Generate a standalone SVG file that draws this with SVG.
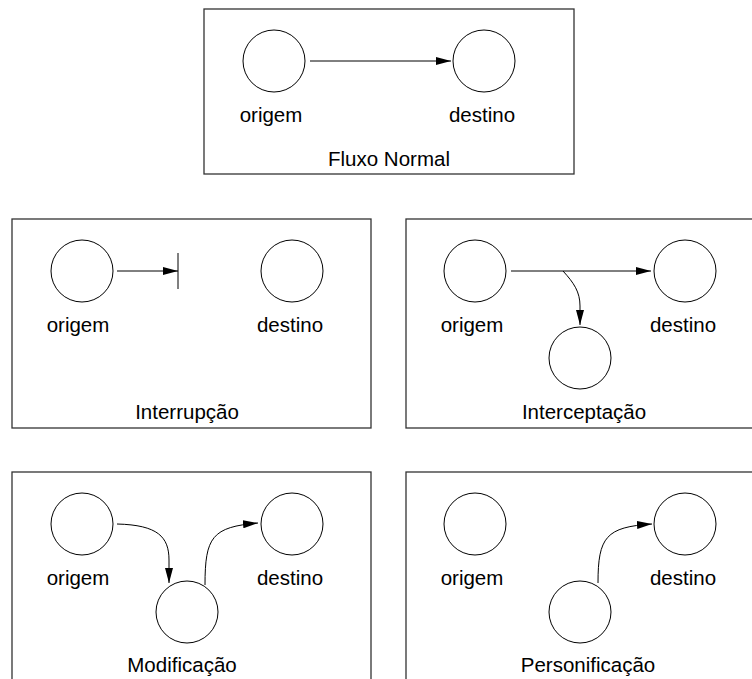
<svg xmlns="http://www.w3.org/2000/svg" width="752" height="679" viewBox="0 0 752 679">
  <style>
    .frame { fill: none; stroke: #333; stroke-width: 1.3; }
    .node { fill: #fff; stroke: #000; stroke-width: 1; }
    .flow { fill: none; stroke: #000; stroke-width: 1; }
    .label { font-family: "Liberation Sans", Arial, Helvetica, sans-serif; font-size: 20.5px; fill: #000; text-anchor: middle; }
  </style>
  <defs>
    <marker id="arrow" markerWidth="15" markerHeight="8" refX="15" refY="4" orient="auto" markerUnits="userSpaceOnUse">
      <path d="M0,0 L15,4 L0,8 z" fill="#000"/>
    </marker>
  </defs>
  <rect width="752" height="679" fill="#fff"/>

  <!-- Fluxo Normal -->
  <g id="panel-normal">
    <rect class="frame" x="204" y="9" width="370" height="165"/>
    <g id="normal-origem">
      <circle class="node" cx="274" cy="61" r="31"/>
      <text class="label" x="271" y="122">origem</text>
    </g>
    <g id="normal-destino">
      <circle class="node" cx="484" cy="61" r="31"/>
      <text class="label" x="482" y="122">destino</text>
    </g>
    <text class="label" x="389" y="166">Fluxo Normal</text>
  </g>

  <!-- Interrupção -->
  <g id="panel-interrupcao">
    <rect class="frame" x="12" y="219" width="359" height="209"/>
    <g id="interrupcao-origem">
      <circle class="node" cx="82" cy="271" r="31"/>
      <text class="label" x="78" y="332">origem</text>
    </g>
    <g id="interrupcao-destino">
      <circle class="node" cx="292" cy="271" r="31"/>
      <text class="label" x="290" y="332">destino</text>
    </g>
    <text class="label" x="187" y="419">Interrupção</text>
  </g>

  <!-- Interceptação -->
  <g id="panel-interceptacao">
    <rect class="frame" x="406" y="219" width="360" height="209"/>
    <g id="interceptacao-origem">
      <circle class="node" cx="475" cy="271" r="31"/>
      <text class="label" x="472" y="332">origem</text>
    </g>
    <g id="interceptacao-destino">
      <circle class="node" cx="685" cy="271" r="31"/>
      <text class="label" x="683" y="332">destino</text>
    </g>
    <g id="interceptacao-intruso">
      <circle class="node" cx="580" cy="358" r="31"/>
    </g>
    <text class="label" x="584" y="419">Interceptação</text>
  </g>

  <!-- Modificação -->
  <g id="panel-modificacao">
    <rect class="frame" x="12" y="472" width="359" height="220"/>
    <g id="modificacao-origem">
      <circle class="node" cx="82" cy="524" r="31"/>
      <text class="label" x="78" y="585">origem</text>
    </g>
    <g id="modificacao-destino">
      <circle class="node" cx="292" cy="524" r="31"/>
      <text class="label" x="290" y="585">destino</text>
    </g>
    <g id="modificacao-intruso">
      <circle class="node" cx="187" cy="612" r="31"/>
    </g>
    <text class="label" x="182" y="672">Modificação</text>
  </g>

  <!-- Personificação -->
  <g id="panel-personificacao">
    <rect class="frame" x="406" y="472" width="360" height="220"/>
    <g id="personificacao-origem">
      <circle class="node" cx="475" cy="524" r="31"/>
      <text class="label" x="472" y="585">origem</text>
    </g>
    <g id="personificacao-destino">
      <circle class="node" cx="685" cy="524" r="31"/>
      <text class="label" x="683" y="585">destino</text>
    </g>
    <g id="personificacao-intruso">
      <circle class="node" cx="580" cy="612" r="31"/>
    </g>
    <text class="label" x="588" y="672">Personificação</text>
  </g>

  <!-- connectors -->
  <g id="connectors">
    <path class="flow" d="M310,61 L451,61" marker-end="url(#arrow)"/>

    <path class="flow" d="M117,271 L178,271" marker-end="url(#arrow)"/>
    <path class="flow" d="M178,253 L178,289"/>

    <path class="flow" d="M511,271 L651,271" marker-end="url(#arrow)"/>
    <path class="flow" d="M563,271 C574,283 580,292 580,306 L580,325" marker-end="url(#arrow)"/>

    <path class="flow" d="M117,524 C158,525 169,537 169,560 L169,583" marker-end="url(#arrow)"/>
    <path class="flow" d="M205,585 C205,537 212,527 258,523" marker-end="url(#arrow)"/>

    <path class="flow" d="M598,583 C598,537 606,527 652,524" marker-end="url(#arrow)"/>
  </g>
</svg>
